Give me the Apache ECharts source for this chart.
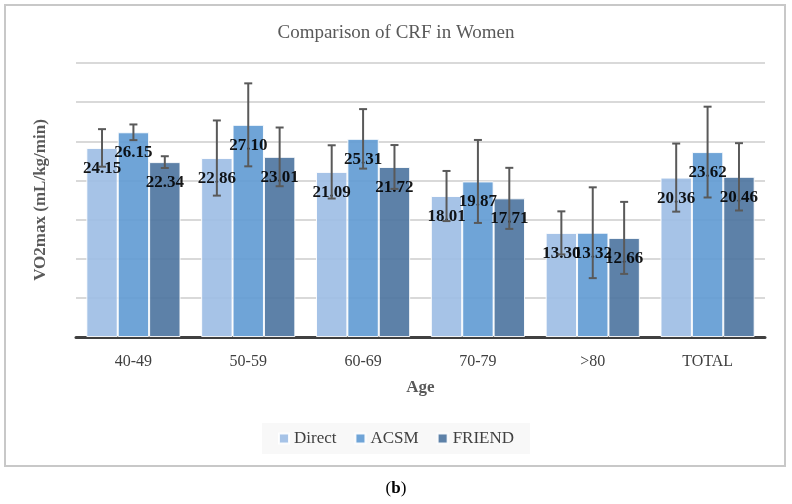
<!DOCTYPE html>
<html>
<head>
<meta charset="utf-8">
<script src="https://cdn.jsdelivr.net/npm/echarts@6/dist/echarts.min.js"></script>
<style>html,body{margin:0;padding:0;background:#fff;}#c{width:792px;height:504px;}</style>
</head>
<body>
<div id="c"></div>
<script>
const categories = ['40-49', '50-59', '60-69', '70-79', '>80', 'TOTAL'];
const seriesNames = ['Direct', 'ACSM', 'FRIEND'];
const directVals = [24.15, 22.86, 21.09, 18.01, 13.30, 20.36];
const acsmVals   = [26.15, 27.10, 25.31, 19.87, 13.32, 23.62];
const friendVals = [22.34, 23.01, 21.72, 17.71, 12.66, 20.46];
const directErr  = [2.4, 4.8, 3.4, 3.2, 2.75, 4.35];
const acsmErr    = [1.0, 5.3, 3.8, 5.3, 5.8, 5.8];
const friendErr  = [0.75, 3.75, 2.8, 3.9, 4.6, 4.3];
const yTicks = [0, 5, 10, 15, 20, 25, 30, 35];

const vals = [directVals, acsmVals, friendVals];
const errs = [directErr, acsmErr, friendErr];
const colors = ['#9CBCE4', '#5F9AD3', '#4B739F'];
const FONT = 'Liberation Serif';
const CAT_GAP = 0.18;

const chart = echarts.init(document.getElementById('c'));

const barSeries = seriesNames.map((name, k) => ({
  name: name,
  type: 'bar',
  data: vals[k],
  barGap: '0%',
  barCategoryGap: (CAT_GAP * 100) + '%',
  itemStyle: { color: colors[k], opacity: 0.9, borderColor: '#ffffff', borderWidth: 1 },
  label: {
    show: true,
    position: 'insideTop',
    distance: 12,
    formatter: p => p.value.toFixed(2),
    fontFamily: FONT,
    fontWeight: 'bold',
    fontSize: 17,
    color: '#000000'
  },
  emphasis: { disabled: true },
  z: 2
}));

const errSeries = seriesNames.map((name, k) => ({
  type: 'custom',
  name: name + ' err',
  data: vals[k].map((v, i) => [i, v - errs[k][i], v + errs[k][i]]),
  renderItem: function (params, api) {
    const x = api.value(0);
    const lo = api.coord([x, api.value(1)]);
    const hi = api.coord([x, api.value(2)]);
    const band = api.size([1, 0])[0];
    const bw = band * (1 - CAT_GAP) / 3;
    const cx = lo[0] + (k - 1) * bw;
    const hw = 4;
    const st = { stroke: '#595959', lineWidth: 2 };
    return {
      type: 'group',
      children: [
        { type: 'line', shape: { x1: cx, y1: lo[1], x2: cx, y2: hi[1] }, style: st },
        { type: 'line', shape: { x1: cx - hw, y1: hi[1], x2: cx + hw, y2: hi[1] }, style: st },
        { type: 'line', shape: { x1: cx - hw, y1: lo[1], x2: cx + hw, y2: lo[1] }, style: st }
      ]
    };
  },
  z: 5,
  silent: true
}));

chart.setOption({
  animation: false,
  backgroundColor: '#ffffff',
  title: {
    text: 'Comparison of CRF in Women',
    left: 'center',
    top: 19,
    textStyle: { fontFamily: FONT, fontSize: 19, fontWeight: 'normal', color: '#595959' }
  },
  legend: {
    data: seriesNames,
    left: 'center',
    top: 423,
    padding: [7, 16],
    itemGap: 18,
    itemWidth: 10,
    itemHeight: 10,
    icon: 'rect',
    backgroundColor: '#f8f8f8',
    textStyle: { fontFamily: FONT, fontSize: 17, color: '#404040' }
  },
  grid: { left: 76, right: 27, top: 63, bottom: 167 },
  xAxis: {
    type: 'category',
    data: categories,
    name: 'Age',
    nameLocation: 'middle',
    nameGap: 42,
    nameTextStyle: { fontFamily: FONT, fontSize: 17, fontWeight: 'bold', color: '#595959' },
    axisLine: { lineStyle: { color: '#404040', width: 3 } },
    axisTick: { show: false },
    axisLabel: { fontFamily: FONT, fontSize: 16, color: '#404040', margin: 17 }
  },
  yAxis: {
    type: 'value',
    min: yTicks[0],
    max: yTicks[yTicks.length - 1],
    interval: yTicks[1] - yTicks[0],
    name: 'VO2max (mL/kg/min)',
    nameLocation: 'middle',
    nameGap: 27,
    nameTextStyle: { fontFamily: FONT, fontSize: 17, fontWeight: 'bold', color: '#595959' },
    axisLine: { show: false },
    axisTick: { show: false },
    axisLabel: { show: false },
    splitLine: { lineStyle: { color: '#d9d9d9', width: 2 } }
  },
  series: barSeries.concat(errSeries),
  graphic: [
    {
      type: 'rect',
      shape: { x: 5, y: 5, width: 780, height: 461 },
      style: { fill: 'none', stroke: '#c8c8c8', lineWidth: 2 },
      silent: true
    },
    {
      type: 'text',
      left: 'center',
      top: 480,
      style: {
        text: '({b|b})',
        fontFamily: FONT,
        fontSize: 17,
        fill: '#000000',
        rich: { b: { fontFamily: FONT, fontSize: 17, fontWeight: 'bold', fill: '#000000' } }
      }
    }
  ]
});
</script>
</body>
</html>
